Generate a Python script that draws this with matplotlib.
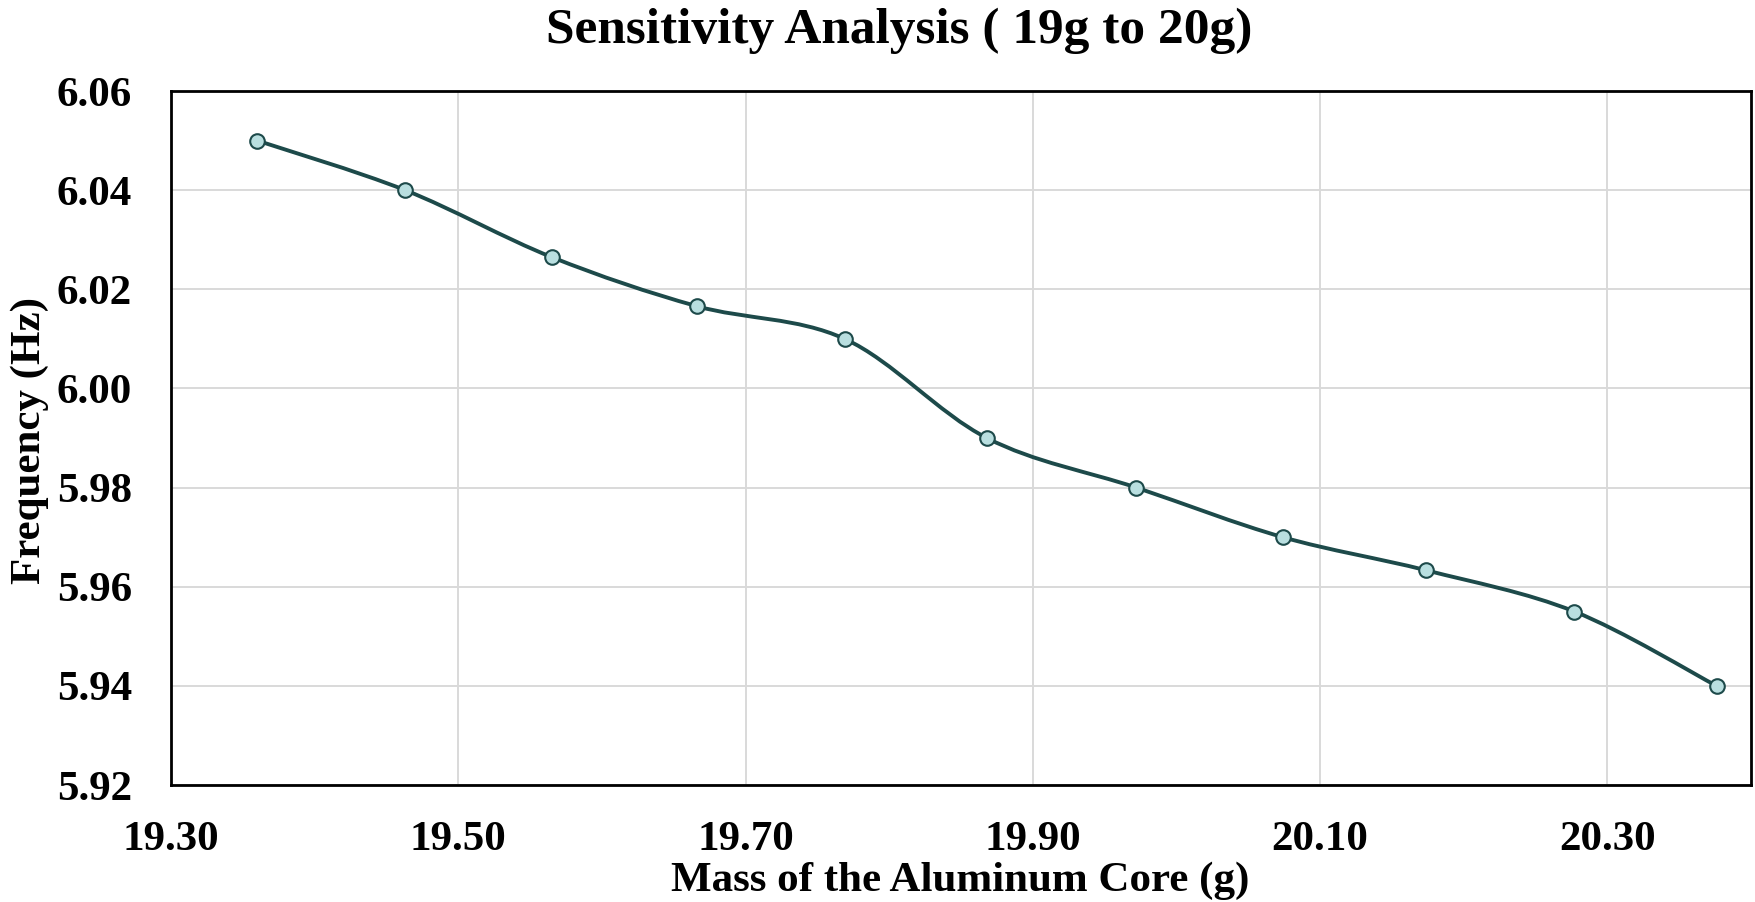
import numpy as np
import matplotlib
matplotlib.use("Agg")
import matplotlib.pyplot as plt
from matplotlib.path import Path
from matplotlib.patches import PathPatch

mass = [19.360, 19.463, 19.565, 19.666, 19.769, 19.868, 19.972, 20.074, 20.174, 20.277, 20.376]
freq = [6.050, 6.040, 6.0265, 6.0166, 6.010, 5.990, 5.980, 5.970, 5.9633, 5.955, 5.940]
xticks = [19.30, 19.50, 19.70, 19.90, 20.10, 20.30]
yticks = [5.92, 5.94, 5.96, 5.98, 6.00, 6.02, 6.04, 6.06]

title = "Sensitivity Analysis ( 19g to 20g)"
xlabel = "Mass of the Aluminum Core (g)"
ylabel = "Frequency (Hz)"

plt.rcParams['font.family'] = ['Liberation Serif', 'DejaVu Serif']
plt.rcParams['font.weight'] = 'bold'

W, H = 1756, 902
fig = plt.figure(figsize=(W / 100, H / 100), dpi=100)
ax = fig.add_axes([171 / W, 1 - 785 / H, (1751 - 171) / W, (785 - 91) / H])

line_c = '#1d4a4a'
fill_c = '#b9dfe0'

# smoothed line (Catmull-Rom style Bezier, like spreadsheet smoothing)
pts = np.column_stack([mass, freq])
n = len(pts)
verts = [tuple(pts[0])]
codes = [Path.MOVETO]
for i in range(n - 1):
    p0 = pts[i - 1] if i > 0 else pts[i]
    p1 = pts[i]
    p2 = pts[i + 1]
    p3 = pts[i + 2] if i + 2 < n else pts[i + 1]
    c1 = p1 + (p2 - p0) / 6.0
    c2 = p2 - (p3 - p1) / 6.0
    verts += [tuple(c1), tuple(c2), tuple(p2)]
    codes += [Path.CURVE4] * 3
patch = PathPatch(Path(verts, codes), facecolor='none', edgecolor=line_c,
                  lw=2.8, zorder=3, capstyle='round', joinstyle='round')
ax.add_patch(patch)
ax.plot(mass, freq, linestyle='none', marker='o', ms=10.5, mfc=fill_c,
        mec=line_c, mew=1.5, zorder=4)

ax.set_xlim(19.30, 20.40)
ax.set_ylim(5.92, 6.06)
ax.set_xticks(xticks)
ax.set_yticks(yticks)
ax.set_xticklabels([f"{v:.2f}" for v in xticks])
ax.set_yticklabels([f"{v:.2f}" for v in yticks])
ax.tick_params(axis='both', length=0, labelsize=31)
ax.tick_params(axis='x', pad=26)
ax.tick_params(axis='y', pad=28)
for lab in ax.get_xticklabels() + ax.get_yticklabels():
    lab.set_fontweight('bold')

ax.grid(True, color='#d9d9d9', lw=1.4, zorder=0)
ax.set_axisbelow(True)
for s in ax.spines.values():
    s.set_color('black')
    s.set_linewidth(2.0)

fig.text(0.512, 1 - 31 / H, title, ha='center', va='center',
         fontsize=37, fontweight='bold')
fig.text(960 / W, 1 - 881 / H, xlabel, ha='center', va='center',
         fontsize=31, fontweight='bold')
fig.text(30 / W, 1 - 440 / H, ylabel, ha='center', va='center',
         rotation=90, fontsize=31, fontweight='bold')

fig.savefig('out.png', dpi=100, facecolor='white')
